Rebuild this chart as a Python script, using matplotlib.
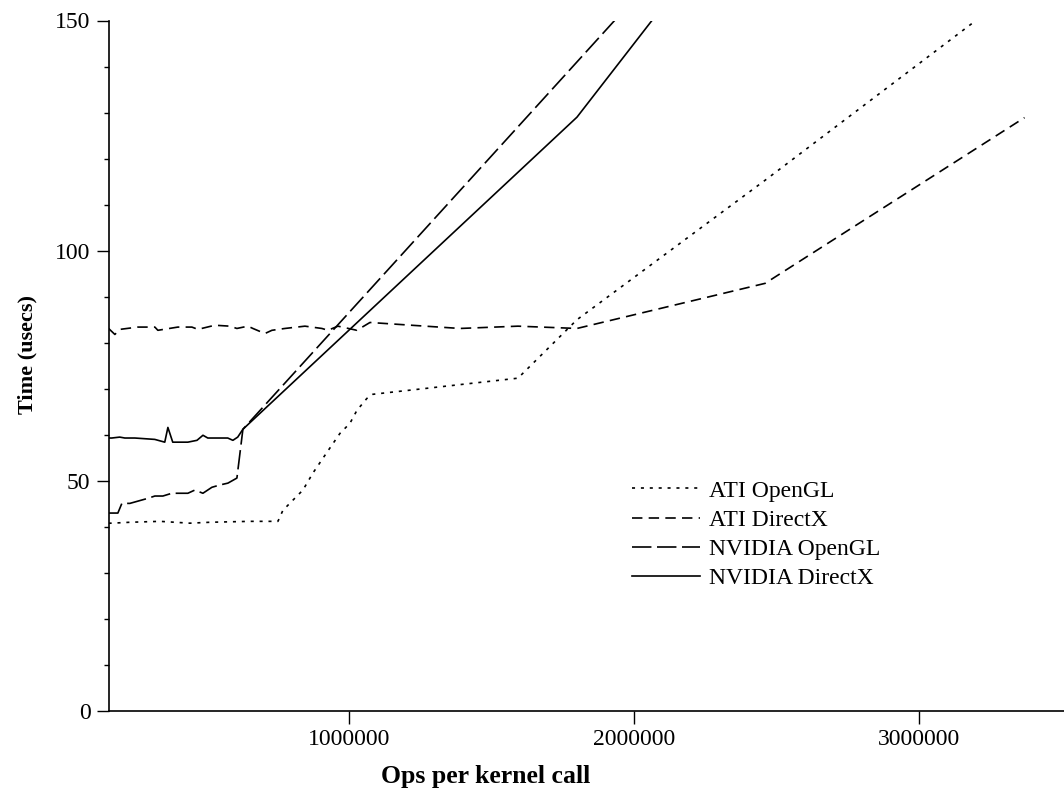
import matplotlib
matplotlib.use("Agg")
import matplotlib.pyplot as plt

plt.rcParams['font.family'] = ['Liberation Serif', 'DejaVu Serif']
plt.rcParams['lines.scale_dashes'] = False

# ---- data ----
ati_gl_x = [157000, 168400, 232000, 337000, 442000, 513000, 653000, 751000, 768500, 803600,
            838700, 873800, 923000, 968500, 1003600, 1028000, 1063000, 1084000, 1593000,
            1800000, 2460000, 3370000]
ati_gl_y = [40.8, 40.8, 41.0, 41.2, 40.8, 41.0, 41.2, 41.2, 43.6, 45.8,
            48.0, 51.7, 56.2, 60.3, 62.5, 65.3, 67.9, 68.8, 72.3,
            85.0, 115.3, 158.0]

ati_dx_x = [157000, 179000, 196500, 259700, 319300, 329800, 400000, 449200, 470200, 529800,
            582500, 607100, 645700, 663200, 705300, 729900, 775500, 845700, 905300, 926400,
            961500, 1028000, 1073800, 1389600, 1593000, 1800000, 2460000, 3370000]
ati_dx_y = [83.1, 81.8, 82.9, 83.4, 83.4, 82.7, 83.4, 83.4, 82.9, 83.8,
            83.6, 83.1, 83.6, 83.1, 82.0, 82.7, 83.1, 83.6, 83.1, 82.7,
            83.6, 82.7, 84.4, 83.1, 83.6, 83.1, 92.9, 128.9]

nv_gl_x = [157000, 165000, 189500, 203500, 231600, 294800, 319300, 347400, 379000, 435100,
           459700, 487800, 519400, 547500, 575500, 607100, 628100, 1800000, 2460000]
nv_gl_y = [43.0, 43.0, 43.0, 45.1, 45.1, 46.2, 46.7, 46.7, 47.3, 47.3,
           48.0, 47.3, 48.6, 49.1, 49.5, 50.6, 61.2, 141.0, 186.0]

nv_dx_x = [157000, 168000, 196000, 214000, 249000, 319000, 354000, 365000, 382000, 435000,
           467000, 488000, 505000, 575000, 593000, 610000, 628100, 1800000, 2460000]
nv_dx_y = [59.3, 59.3, 59.5, 59.3, 59.3, 59.0, 58.4, 61.6, 58.4, 58.4,
           58.8, 59.9, 59.3, 59.3, 58.8, 59.5, 61.2, 129.0, 181.7]

labels = ["ATI OpenGL", "ATI DirectX", "NVIDIA OpenGL", "NVIDIA DirectX"]
x_ticks = [1000000, 2000000, 3000000]
y_ticks = [0, 50, 100, 150]

# ---- figure ----
W, H = 1064, 792
fig = plt.figure(figsize=(W / 100, H / 100), dpi=100)
left, right, bottom, top = 108.6, 1064, 711, 20.5
ax = fig.add_axes([left / W, 1 - bottom / H, (right - left) / W, (bottom - top) / H])

lw = 1.2
ax.plot(ati_gl_x, ati_gl_y, color='black', lw=lw, dashes=(2.2, 4.2), label=labels[0])
ax.plot(ati_dx_x, ati_dx_y, color='black', lw=lw, dashes=(7.5, 4.5), label=labels[1])
ax.plot(nv_gl_x, nv_gl_y, color='black', lw=lw, dashes=(14, 4), label=labels[2])
ax.plot(nv_dx_x, nv_dx_y, color='black', lw=lw, label=labels[3])

ax.set_xlim(157000, 3508500)
ax.set_ylim(0, 150)

for s in ['top', 'right']:
    ax.spines[s].set_visible(False)
for s in ['left', 'bottom']:
    ax.spines[s].set_linewidth(1.2)

ax.set_xticks(x_ticks)
ax.set_xticklabels([str(v) for v in x_ticks])
ax.set_yticks(y_ticks)
ax.set_yticks(range(0, 151, 10), minor=True)
ax.tick_params(axis='both', which='major', direction='out', length=9, width=1.0,
               labelsize=17, pad=4)
ax.tick_params(axis='y', which='minor', direction='out', length=3.5, width=1.0)
ax.tick_params(axis='x', which='minor', length=0)

ax.set_xlabel("Ops per kernel call", fontsize=18.5, fontweight='bold', va='center')
ax.xaxis.set_label_coords((485.5 - left) / (right - left), -(777 - bottom) / (bottom - top))
ax.set_ylabel("Time (usecs)", fontsize=16, fontweight='bold', va='center')
ax.yaxis.set_label_coords((27 - left) / (right - left), (bottom - 354) / (bottom - top))

ax.legend(loc='upper left', bbox_to_anchor=(632 / W, 1 - 480 / H),
          bbox_transform=fig.transFigure, frameon=False, fontsize=17,
          handlelength=2.9, handletextpad=0.35, labelspacing=0.33,
          borderpad=0, borderaxespad=0)

fig.savefig("out.png", dpi=100)
